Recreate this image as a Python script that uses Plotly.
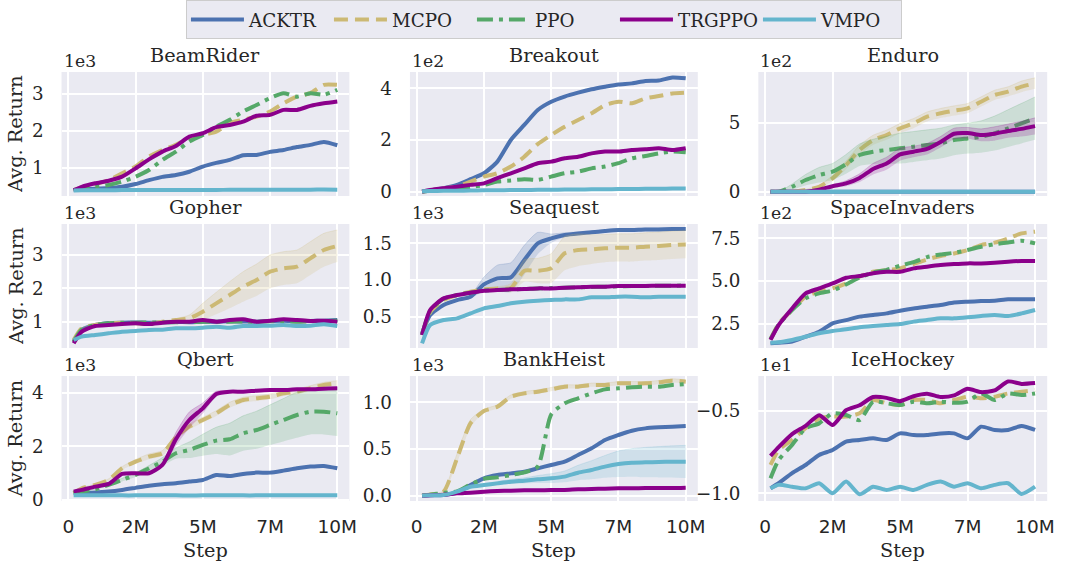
import plotly.graph_objects as go

# ---------------- data ----------------
STEPS_M = [0.2, 0.5, 1.0, 1.5, 2.0, 2.5, 3.0, 3.5, 4.0, 4.5, 5.0,
           5.5, 6.0, 6.5, 7.0, 7.5, 8.0, 8.5, 9.0, 9.5, 10.0]

ALGOS = ["ACKTR", "MCPO", "PPO", "TRGPPO", "VMPO"]
GAMES = ["BeamRider", "Breakout", "Enduro", "Gopher", "Seaquest",
         "SpaceInvaders", "Qbert", "BankHeist", "IceHockey"]

BEAMRIDER_ACKTR = [390, 410, 430, 445, 480, 555, 660, 750, 800, 890, 1030, 1130, 1210, 1340, 1345, 1430, 1480, 1560, 1620, 1700, 1610]
BEAMRIDER_MCPO = [390, 460, 550, 660, 845, 1030, 1300, 1480, 1620, 1800, 1890, 1980, 2210, 2300, 2390, 2525, 2750, 2930, 3025, 3250, 3250]
BEAMRIDER_PPO = [390, 430, 480, 530, 620, 755, 935, 1210, 1435, 1710, 1890, 2115, 2300, 2525, 2705, 2890, 3025, 2930, 3025, 2980, 3115]
BEAMRIDER_TRGPPO = [390, 480, 575, 645, 755, 980, 1225, 1435, 1590, 1845, 1935, 2100, 2160, 2250, 2410, 2435, 2570, 2570, 2680, 2750, 2800]
BEAMRIDER_VMPO = [380, 385, 385, 388, 390, 390, 392, 392, 395, 395, 395, 395, 398, 398, 400, 400, 400, 402, 402, 405, 402]

BREAKOUT_ACKTR = [0, 4, 13, 26, 48, 71, 116, 200, 258, 316, 348, 368, 383, 396, 406, 415, 419, 428, 430, 442, 439]
BREAKOUT_MCPO = [0, 4, 13, 19, 39, 58, 71, 97, 135, 184, 219, 251, 277, 303, 335, 348, 342, 361, 370, 380, 383]
BREAKOUT_PPO = [0, 3, 6, 10, 17, 26, 39, 43, 48, 45, 58, 71, 77, 90, 97, 110, 129, 138, 148, 155, 152]
BREAKOUT_TRGPPO = [0, 6, 13, 19, 26, 32, 52, 71, 90, 110, 116, 129, 135, 148, 155, 155, 161, 164, 168, 161, 168]
BREAKOUT_VMPO = [1, 2, 3, 3, 4, 5, 5, 6, 6, 7, 7, 8, 8, 9, 9, 10, 10, 11, 11, 12, 12]

ENDURO_ACKTR = [0, 0, 0, 0, 0, 0, 0, 0, 0, 0, 0, 0, 0, 0, 0, 0, 0, 0, 0, 0, 0]
ENDURO_MCPO = [0, 0, 0, 12, 36, 97, 193, 302, 374, 411, 459, 495, 543, 568, 587, 604, 652, 700, 725, 761, 785]
ENDURO_PPO = [0, 0, 36, 85, 121, 145, 200, 266, 290, 302, 314, 326, 338, 350, 374, 386, 398, 423, 459, 495, 531]
ENDURO_TRGPPO = [0, 0, 0, 0, 15, 40, 60, 100, 165, 205, 270, 290, 310, 360, 420, 425, 410, 420, 440, 455, 475]
ENDURO_VMPO = [0, 0, 0, 0, 0, 0, 0, 0, 0, 0, 0, 0, 0, 0, 0, 0, 0, 0, 0, 0, 0]

GOPHER_ACKTR = [400, 750, 900, 960, 970, 975, 970, 980, 990, 985, 1000, 1000, 1010, 1005, 1000, 1020, 1030, 1010, 1020, 1030, 1050]
GOPHER_MCPO = [450, 800, 900, 950, 970, 950, 930, 1000, 1050, 1100, 1300, 1550, 1800, 2050, 2250, 2500, 2600, 2650, 2900, 3150, 3270]
GOPHER_PPO = [400, 760, 900, 950, 970, 970, 975, 980, 985, 990, 995, 1000, 1000, 1005, 1000, 1010, 1010, 1000, 1010, 1020, 1030]
GOPHER_TRGPPO = [350, 700, 870, 900, 930, 950, 930, 970, 1000, 1000, 1050, 1000, 1050, 1070, 1000, 1030, 1070, 1050, 1020, 1030, 1000]
GOPHER_VMPO = [450, 550, 600, 650, 700, 720, 750, 760, 800, 800, 820, 850, 820, 870, 870, 880, 900, 870, 880, 920, 870]

SEAQUEST_ACKTR = [273, 523, 660, 727, 773, 940, 1023, 1036, 1273, 1500, 1568, 1614, 1636, 1650, 1668, 1682, 1682, 1690, 1690, 1695, 1695]
SEAQUEST_MCPO = [260, 560, 727, 795, 840, 873, 886, 890, 1127, 1127, 1160, 1364, 1409, 1418, 1432, 1441, 1441, 1455, 1464, 1477, 1486]
SEAQUEST_PPO = [250, 580, 745, 795, 827, 855, 864, 873, 877, 886, 890, 895, 900, 905, 909, 914, 918, 918, 923, 923, 925]
SEAQUEST_TRGPPO = [250, 591, 750, 795, 827, 855, 864, 873, 877, 886, 886, 895, 900, 909, 909, 918, 918, 918, 923, 923, 923]
SEAQUEST_VMPO = [136, 386, 455, 477, 545, 614, 645, 682, 705, 718, 727, 736, 736, 764, 764, 773, 773, 764, 773, 773, 773]

SPACEINVADERS_ACKTR = [136, 140, 146, 175, 204, 253, 272, 292, 302, 311, 327, 340, 350, 360, 374, 379, 383, 385, 393, 393, 393]
SPACEINVADERS_MCPO = [160, 250, 331, 409, 438, 457, 486, 525, 554, 564, 574, 599, 626, 646, 661, 681, 710, 724, 749, 778, 788]
SPACEINVADERS_PPO = [160, 245, 331, 399, 428, 445, 480, 520, 550, 565, 590, 610, 640, 655, 665, 681, 700, 715, 725, 735, 720]
SPACEINVADERS_TRGPPO = [156, 243, 340, 428, 457, 486, 519, 529, 545, 554, 554, 574, 584, 593, 599, 603, 603, 607, 613, 617, 617]
SPACEINVADERS_VMPO = [140, 142, 156, 175, 195, 208, 218, 230, 237, 243, 249, 263, 272, 282, 282, 288, 296, 302, 296, 311, 331]

QBERT_ACKTR = [250, 260, 275, 310, 370, 450, 530, 584, 621, 683, 745, 931, 894, 969, 1018, 1018, 1093, 1180, 1242, 1267, 1180]
QBERT_MCPO = [248, 435, 559, 745, 1180, 1428, 1615, 1739, 2335, 2732, 2981, 3229, 3540, 3726, 3788, 3850, 3974, 4036, 4160, 4285, 4347]
QBERT_PPO = [248, 300, 397, 559, 745, 931, 1180, 1428, 1739, 1863, 2049, 2211, 2260, 2484, 2608, 2795, 2981, 3167, 3291, 3291, 3229]
QBERT_TRGPPO = [310, 373, 497, 596, 970, 994, 994, 1304, 2260, 2980, 3415, 3950, 4036, 4036, 4074, 4099, 4099, 4123, 4123, 4148, 4160]
QBERT_VMPO = [170, 170, 172, 172, 170, 170, 172, 170, 170, 168, 170, 170, 172, 170, 170, 172, 172, 172, 175, 175, 175]

BANKHEIST_ACKTR = [0, 4, 7, 32, 114, 186, 221, 239, 257, 293, 329, 364, 436, 507, 596, 650, 696, 721, 732, 739, 746]
BANKHEIST_MCPO = [0, 14, 43, 400, 775, 907, 953, 1060, 1096, 1114, 1139, 1168, 1168, 1186, 1186, 1203, 1203, 1203, 1214, 1232, 1221]
BANKHEIST_PPO = [0, 10, 30, 45, 120, 180, 196, 221, 250, 311, 870, 989, 1043, 1096, 1139, 1150, 1161, 1168, 1168, 1186, 1196]
BANKHEIST_TRGPPO = [0, 5, 10, 25, 32, 43, 50, 54, 57, 57, 61, 61, 68, 71, 75, 79, 79, 82, 82, 82, 86]
BANKHEIST_VMPO = [0, 4, 7, 43, 96, 114, 132, 150, 161, 175, 186, 204, 246, 275, 311, 339, 354, 357, 361, 364, 364]

ICEHOCKEY_ACKTR = [-9.7, -9.39, -8.78, -8.28, -7.67, -7.37, -6.86, -6.76, -6.66, -6.76, -6.36, -6.46, -6.46, -6.36, -6.36, -6.66, -5.95, -6.15, -6.15, -5.91, -6.15]
ICEHOCKEY_MCPO = [-8.28, -7.37, -6.76, -6.05, -5.45, -5.34, -5.34, -5.14, -4.33, -4.53, -4.64, -4.33, -4.33, -4.53, -4.33, -4.13, -4.23, -4.13, -3.93, -3.83, -3.72]
ICEHOCKEY_PPO = [-9.09, -7.98, -7.06, -6.05, -5.75, -5.14, -5.24, -5.55, -4.43, -4.53, -4.64, -4.43, -4.53, -4.43, -4.5, -4.43, -3.93, -4.33, -3.93, -4.03, -3.93]
ICEHOCKEY_TRGPPO = [-7.73, -7.2, -6.4, -5.9, -5.25, -5.85, -4.95, -4.65, -4.15, -4.2, -4.4, -4.1, -3.95, -4.15, -4.05, -3.65, -3.85, -3.75, -3.2, -3.35, -3.3]
ICEHOCKEY_VMPO = [-9.7, -9.49, -9.6, -9.7, -9.39, -10.0, -9.29, -10.06, -9.6, -9.8, -9.6, -9.8, -9.49, -9.29, -9.6, -9.39, -9.7, -9.49, -9.39, -10.04, -9.6]

# spread (std) bands visible in the reference
ENDURO_MCPO_SD = [0, 0, 0, 5, 10, 20, 30, 35, 35, 35, 35, 35, 35, 35, 35, 35, 35, 35, 35, 40, 40]
ENDURO_PPO_SD = [0, 0, 20, 40, 55, 60, 70, 80, 90, 100, 110, 110, 110, 110, 110, 110, 115, 125, 135, 145, 155]
ENDURO_TRGPPO_SD = [0, 0, 0, 0, 5, 10, 20, 30, 40, 45, 45, 40, 40, 40, 40, 40, 45, 50, 50, 55, 60]
GOPHER_MCPO_SD = [0, 20, 20, 20, 20, 20, 20, 20, 40, 100, 250, 330, 400, 450, 480, 500, 500, 500, 500, 500, 480]
SEAQUEST_ACKTR_SD = [0, 0, 0, 0, 20, 100, 180, 200, 200, 150, 60, 30, 20, 20, 20, 20, 20, 20, 20, 20, 20]
SEAQUEST_MCPO_SD = [0, 0, 0, 0, 0, 0, 20, 60, 150, 170, 200, 230, 220, 200, 190, 190, 190, 190, 190, 190, 190]
QBERT_MCPO_SD = [0, 20, 30, 40, 60, 80, 100, 100, 100, 100, 100, 100, 100, 100, 100, 100, 100, 100, 100, 100, 100]
QBERT_PPO_SD = [0, 0, 20, 40, 60, 80, 100, 150, 200, 300, 400, 500, 600, 650, 700, 750, 800, 850, 850, 850, 850]
QBERT_TRGPPO_SD = [0, 0, 0, 0, 0, 0, 0, 50, 250, 300, 200, 100, 30, 30, 30, 30, 30, 30, 30, 30, 30]
BANKHEIST_MCPO_SD = [0, 0, 10, 50, 40, 20, 20, 20, 20, 20, 20, 20, 20, 20, 20, 20, 20, 20, 20, 20, 20]
BANKHEIST_VMPO_SD = [0, 0, 0, 5, 10, 15, 20, 25, 30, 40, 50, 60, 80, 100, 120, 140, 150, 160, 165, 170, 175]

X_TICKVALS = [0, 2.5e6, 5e6, 7.5e6, 1e7]
X_TICKTEXT = ["0", "2M", "5M", "7M", "10M"]

Y_RANGES = [[230, 3600], [-17, 463], [-31, 867], [210, 3930], [73, 1764],
            [109, 833], [-40, 4620], [-57, 1282], [-10.47, -2.87]]
Y_TICKVALS = [[1000, 2000, 3000], [0, 200, 400], [0, 500], [1000, 2000, 3000],
              [500, 1000, 1500], [250, 500, 750], [0, 2000, 4000],
              [0, 500, 1000], [-10, -5]]
Y_TICKTEXT = [["1", "2", "3"], ["0", "2", "4"], ["0", "5"], ["1", "2", "3"],
              ["0.5", "1.0", "1.5"], ["2.5", "5.0", "7.5"], ["0", "2", "4"],
              ["0.0", "0.5", "1.0"], ["\u22121.0", "\u22120.5"]]
OFFSET_TEXT = ["1e3", "1e2", "1e2", "1e3", "1e3", "1e2", "1e3", "1e3", "1e1"]

# ---------------- styling ----------------
COLORS = {"ACKTR": "#4C72B0", "MCPO": "#CCB974", "PPO": "#55A868",
          "TRGPPO": "#8B008B", "VMPO": "#64B5CD"}
DASHES = {"ACKTR": "solid", "MCPO": "14px,7px", "PPO": "16px,6px,4px,6px",
          "TRGPPO": "solid", "VMPO": "solid"}
SERIF = "DejaVu Serif"
SANS = "DejaVu Sans"
TXT = "#262626"

# the capture squeezes the page height by ~0.984, so the page is drawn a bit taller
S = 0.984
REF_W, REF_H = 1066, 565
W, H = 1083, round(REF_H / S)
COL_X = [(62, 352), (413, 703), (764, 1055)]   # target picture pixels
ROW_Y = [(72, 196), (224, 348), (376, 501)]


def fx(px):
    return px / W


def fy(py):
    return 1 - py / REF_H


def sz(v):
    return v / S


def rgba(hexc, a):
    h = hexc.lstrip("#")
    return "rgba(%d,%d,%d,%.2f)" % (int(h[0:2], 16), int(h[2:4], 16), int(h[4:6], 16), a)


data = {}
sds = {}
g = globals()
for game in GAMES:
    for algo in ALGOS:
        data[(game, algo)] = g["%s_%s" % (game.upper(), algo)]
        key = "%s_%s_SD" % (game.upper(), algo)
        if key in g:
            sds[(game, algo)] = g[key]

steps = [s * 1e6 for s in STEPS_M]

fig = go.Figure()
annotations = []
layout_axes = {}

for k, game in enumerate(GAMES):
    r, c = divmod(k, 3)
    idx = k + 1
    xa = "x" if idx == 1 else "x%d" % idx
    ya = "y" if idx == 1 else "y%d" % idx
    for algo in ALGOS:
        vals = data[(game, algo)]
        col = COLORS[algo]
        if (game, algo) in sds:
            sd = sds[(game, algo)]
            lo = [v - s for v, s in zip(vals, sd)]
            hi = [v + s for v, s in zip(vals, sd)]
            fig.add_trace(go.Scatter(x=steps, y=lo, xaxis=xa, yaxis=ya, mode="lines",
                                     line=dict(width=0, shape="spline", smoothing=0.6, color=col),
                                     showlegend=False, hoverinfo="skip"))
            fig.add_trace(go.Scatter(x=steps, y=hi, xaxis=xa, yaxis=ya, mode="lines",
                                     line=dict(width=0.8, shape="spline", smoothing=0.6,
                                               color=rgba(col, 0.25)),
                                     fill="tonexty", fillcolor=rgba(col, 0.2),
                                     showlegend=False, hoverinfo="skip"))
        fig.add_trace(go.Scatter(x=steps, y=vals, xaxis=xa, yaxis=ya, mode="lines", name=algo,
                                 line=dict(color=col, width=4, dash=DASHES[algo],
                                           shape="spline", smoothing=0.6),
                                 showlegend=(k == 0), legendgroup=algo))

    x0, x1 = COL_X[c]
    y0, y1 = ROW_Y[r]
    bottom = (r == 2)
    layout_axes["xaxis" if idx == 1 else "xaxis%d" % idx] = dict(
        domain=[fx(x0), fx(x1)], anchor=ya, range=[-0.25e6, 10.45e6],
        tickvals=X_TICKVALS, ticktext=X_TICKTEXT, showticklabels=bottom,
        tickfont=dict(family=SANS, size=18.5, color=TXT),
        ticks="", ticklabelstandoff=12,
        showgrid=True, gridcolor="white", gridwidth=1.6, zeroline=False, showline=False)
    layout_axes["yaxis" if idx == 1 else "yaxis%d" % idx] = dict(
        domain=[fy(y1), fy(y0)], anchor=xa, range=Y_RANGES[k],
        tickvals=Y_TICKVALS[k], ticktext=Y_TICKTEXT[k],
        tickfont=dict(family=SERIF, size=sz(18), color=TXT),
        ticks="", ticklabelstandoff=17,
        showgrid=True, gridcolor="white", gridwidth=1.6, zeroline=False, showline=False)

    # title
    annotations.append(dict(text=game, x=fx((x0 + x1) / 2), y=fy(y0 - 17),
                            xref="paper", yref="paper", showarrow=False,
                            xanchor="center", yanchor="middle",
                            font=dict(family=SERIF, size=sz(19), color=TXT)))
    # offset text
    annotations.append(dict(text=OFFSET_TEXT[k], x=fx(x0), y=fy(y0 - 11),
                            xref="paper", yref="paper", showarrow=False,
                            xanchor="left", yanchor="middle",
                            font=dict(family=SERIF, size=sz(17), color=TXT)))
    if c == 0:
        annotations.append(dict(text="Avg. Return", x=fx(16), y=fy((y0 + y1) / 2),
                                xref="paper", yref="paper", showarrow=False, textangle=-90,
                                xanchor="center", yanchor="middle",
                                font=dict(family=SERIF, size=sz(19), color=TXT)))
    if bottom:
        annotations.append(dict(text="Step", x=fx((x0 + x1) / 2), y=fy(550),
                                xref="paper", yref="paper", showarrow=False,
                                xanchor="center", yanchor="middle",
                                font=dict(family=SERIF, size=sz(19), color=TXT)))

fig.update_layout(
    width=W, height=H, margin=dict(l=0, r=0, t=0, b=0),
    paper_bgcolor="white", plot_bgcolor="#EAEAF2",
    showlegend=True,
    legend=dict(orientation="h", x=fx(548), y=fy(19.5), xanchor="center", yanchor="middle",
                bgcolor="#EAEAF2", bordercolor="#CCCCCC", borderwidth=1,
                font=dict(family=SERIF, size=sz(18), color=TXT), itemwidth=53,
                entrywidth=75, entrywidthmode="pixels", tracegroupgap=0),
    annotations=annotations,
    **layout_axes,
)

fig.write_html(
    "out.html",
    config={"displayModeBar": False},
    post_script=("document.documentElement.style.margin='0';"
                 "document.documentElement.style.overflow='hidden';"
                 "document.body.style.margin='0';"
                 "document.body.style.overflow='hidden';"),
)
